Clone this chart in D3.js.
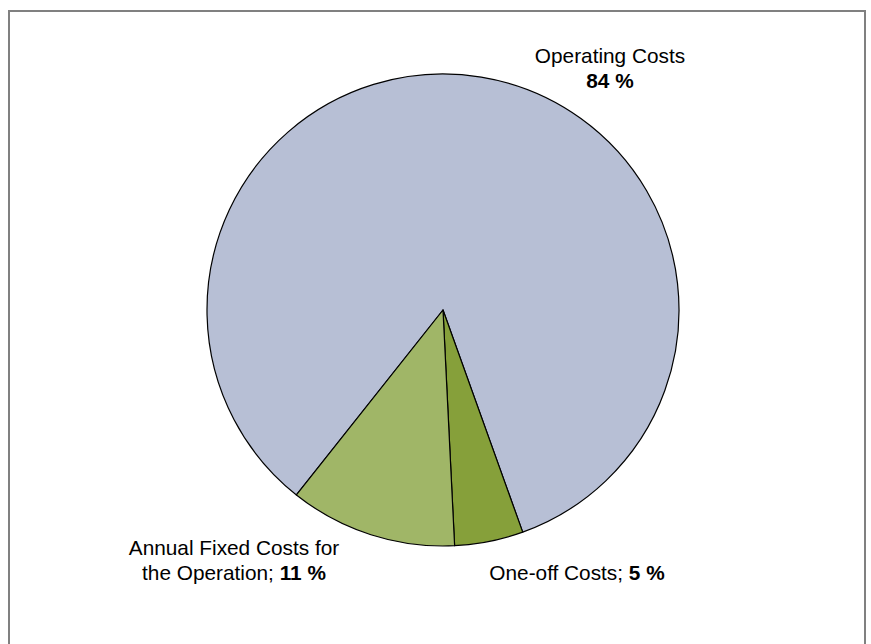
<!DOCTYPE html>
<html>
<head>
<meta charset="utf-8">
<script src="https://cdn.jsdelivr.net/npm/d3@7"></script>
<style>
  body { margin: 0; background: #fff; }
  text { font-family: "Liberation Sans", Arial, sans-serif; font-size: 20.8px; fill: #000; }
</style>
</head>
<body>
<svg id="chart" width="871" height="644"></svg>
<script>
// Data
var categories = ["Operating Costs", "One-off Costs", "Annual Fixed Costs for the Operation"];
var values = [83.85, 4.7, 11.45];
var colors = ["#b7bfd5", "#86a03a", "#a0b667"];

var cx = 443, cy = 310, radius = 236;

var svg = d3.select("#chart");

// Frame
svg.append("path")
  .attr("d", "M9,700 V11 H865 V700")
  .attr("fill", "none")
  .attr("stroke", "#808080")
  .attr("stroke-width", 2);

// Pie, clockwise from the first slice's left edge
var pie = d3.pie()
  .sort(null)
  .startAngle(-141.6 * Math.PI / 180)
  .endAngle((360 - 141.6) * Math.PI / 180);

var arc = d3.arc().innerRadius(0).outerRadius(radius);

var g = svg.append("g").attr("transform", "translate(" + cx + "," + cy + ")");

g.selectAll("path.slice")
  .data(pie(values))
  .enter()
  .append("path")
  .classed("slice", true)
  .attr("d", arc)
  .attr("fill", function (d, i) { return colors[i]; })
  .attr("stroke", "#000")
  .attr("stroke-width", 1.2)
  .attr("stroke-linejoin", "round");

function pct(v) { return Math.round(v) + " %"; }

// Labels
var lab = svg.append("g");

var t0 = lab.append("text").attr("text-anchor", "middle").attr("x", 610).attr("y", 63);
t0.append("tspan").text(categories[0]);
t0.append("tspan").attr("x", 610).attr("dy", 25).attr("font-weight", "bold").text(pct(values[0]));

var t1 = lab.append("text").attr("text-anchor", "middle").attr("x", 577).attr("y", 580);
t1.append("tspan").text(categories[1] + "; ");
t1.append("tspan").attr("font-weight", "bold").text(pct(values[1]));

var t2 = lab.append("text").attr("text-anchor", "middle").attr("x", 234).attr("y", 555);
t2.append("tspan").text("Annual Fixed Costs for");
var t2b = lab.append("text").attr("text-anchor", "middle").attr("x", 234).attr("y", 580);
t2b.append("tspan").text("the Operation; ");
t2b.append("tspan").attr("font-weight", "bold").text(pct(values[2]));
</script>
</body>
</html>
